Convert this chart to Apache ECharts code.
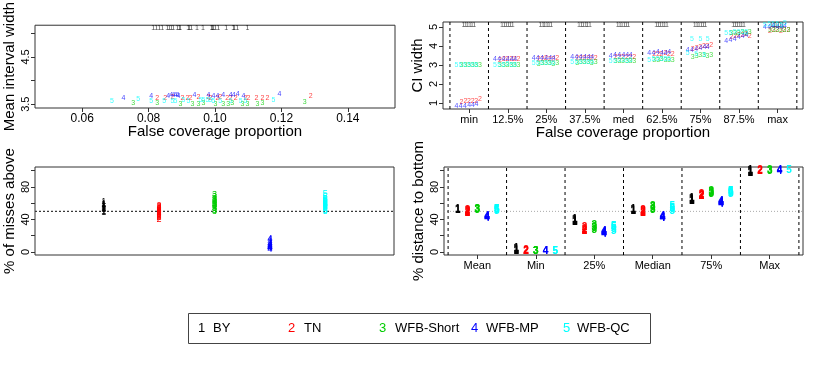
<!DOCTYPE html>
<html><head><meta charset="utf-8">
<script src="https://cdn.jsdelivr.net/npm/echarts@6/dist/echarts.min.js"></script>
<style>html,body{margin:0;padding:0;background:#fff}#c{width:817px;height:382px}</style>
</head><body><div id="c"></div>
<script>
// ---------- data ----------
const METHODS = ['BY', 'TN', 'WFB-Short', 'WFB-MP', 'WFB-QC'];
const COLORS = ['#000000', '#FF0000', '#00CD00', '#0000FF', '#00FFFF'];

// Panel 1: false coverage proportion vs mean interval width
const fcpBY = [0.0814,0.0823,0.0832,0.0841,0.0856,0.0862,0.0868,0.0874,0.0886,0.0892,0.0895,0.0919,0.0922,0.0928,0.0946,0.0964,0.0989,0.0992,0.0995,0.1001,0.1010,0.1034,0.1055,0.1058,0.1067,0.1098];
const widthBY = [5.12,5.12,5.12,5.12,5.12,5.12,5.12,5.12,5.12,5.12,5.12,5.12,5.12,5.12,5.12,5.12,5.12,5.12,5.12,5.12,5.12,5.12,5.12,5.12,5.12,5.12];
const fcpTN = [0.0826,0.0850,0.0872,0.0902,0.0917,0.0926,0.0950,0.0980,0.0986,0.1007,0.1016,0.1037,0.1047,0.1062,0.1092,0.1101,0.1125,0.1143,0.1158,0.1288];
const widthTN = [3.62,3.64,3.66,3.63,3.62,3.63,3.65,3.66,3.64,3.63,3.66,3.64,3.62,3.63,3.62,3.63,3.64,3.64,3.64,3.68];
const fcpShort = [0.0754,0.0826,0.0896,0.0932,0.0950,0.0965,0.1001,0.1025,0.1040,0.1052,0.1083,0.1098,0.1128,0.1143,0.1270];
const widthShort = [3.52,3.52,3.50,3.51,3.50,3.52,3.50,3.51,3.50,3.52,3.51,3.51,3.51,3.52,3.54];
const fcpMP = [0.0724,0.0808,0.0859,0.0868,0.0875,0.0881,0.0887,0.0890,0.0938,0.0980,0.0995,0.1007,0.1025,0.1047,0.1056,0.1068,0.1086,0.1194];
const widthMP = [3.64,3.68,3.68,3.70,3.70,3.69,3.70,3.68,3.69,3.69,3.68,3.68,3.69,3.70,3.69,3.71,3.68,3.72];
const fcpQC = [0.0690,0.0769,0.0808,0.0847,0.0872,0.0881,0.0905,0.0920,0.0956,0.0965,0.0977,0.0986,0.0995,0.1016,0.1047,0.1077,0.1092,0.1176];
const widthQC = [3.56,3.60,3.57,3.56,3.57,3.57,3.58,3.57,3.58,3.59,3.58,3.58,3.57,3.56,3.57,3.56,3.57,3.59];

// Panel 2: CI width quantiles
const QUANTS = ['min','12.5%','25%','37.5%','med','62.5%','75%','87.5%','max'];
const OFF_BY = [-0.15,-0.09,-0.04,0.02,0.07,0.13];
const OFF_23 = [-0.2,-0.1,-0.01,0.09,0.18,0.28];
const OFF_45 = [-0.33,-0.22,-0.11,0.0,0.1,0.19];
const ciBY = [
 [5.10,5.11,5.10,5.12,5.11,5.10],[5.10,5.11,5.10,5.12,5.11,5.10],[5.10,5.11,5.10,5.12,5.11,5.10],
 [5.10,5.11,5.10,5.12,5.11,5.10],[5.10,5.11,5.10,5.12,5.11,5.10],[5.10,5.11,5.10,5.12,5.11,5.10],
 [5.10,5.11,5.10,5.12,5.11,5.10],[5.10,5.11,5.10,5.12,5.11,5.10],[5.10,5.11,5.10,5.12,5.11,5.10]];
const ciTN = [
 [1.05,1.08,1.10,1.09,1.12,1.22],[3.28,3.30,3.31,3.29,3.30,3.30],[3.31,3.33,3.34,3.33,3.32,3.34],
 [3.34,3.36,3.38,3.37,3.36,3.37],[3.40,3.42,3.44,3.43,3.42,3.44],[3.55,3.57,3.58,3.60,3.58,3.58],
 [3.86,3.90,3.95,3.98,4.00,4.02],[4.48,4.52,4.55,4.58,4.60,4.53],[4.80,4.81,4.82,4.80,4.81,4.82]];
const ciShort = [
 [2.99,3.00,3.01,3.00,2.99,3.00],[2.99,3.00,3.01,3.00,3.01,3.00],[3.06,3.08,3.09,3.08,3.07,3.08],
 [3.11,3.13,3.14,3.13,3.12,3.13],[3.18,3.20,3.22,3.21,3.20,3.22],[3.26,3.28,3.29,3.28,3.27,3.28],
 [3.42,3.46,3.50,3.52,3.48,3.52],[4.66,4.68,4.70,4.72,4.70,4.72],[4.84,4.86,4.85,4.86,4.84,4.86]];
const ciMP = [
 [0.84,0.86,0.85,0.88,0.87,0.95],[3.31,3.33,3.32,3.33,3.31,3.32],[3.34,3.36,3.35,3.36,3.34,3.35],
 [3.40,3.42,3.41,3.43,3.42,3.41],[3.48,3.50,3.52,3.51,3.50,3.52],[3.62,3.64,3.66,3.65,3.63,3.66],
 [3.80,3.76,3.84,3.88,3.92,3.94],[4.24,4.30,4.38,4.45,4.50,4.55],[5.00,5.01,5.02,5.01,5.00,5.02]];
const ciQC = [
 [3.00,3.01,3.00,2.99,3.00,3.01],[3.00,3.01,3.00,3.02,3.01,3.00],[3.08,3.10,3.09,3.10,3.08,3.09],
 [3.13,3.15,3.16,3.15,3.14,3.15],[3.20,3.22,3.24,3.23,3.22,3.23],[3.28,3.30,3.31,3.30,3.29,3.30],
 [3.62,4.35,3.55,4.35,3.50,4.35],[4.66,4.70,4.72,4.74,4.73,4.72],[5.10,5.14,5.16,5.15,5.12,5.18]];

// Panel 3: % of misses above
const aboveBY = [48,50,52,53,54,55,56,57,58,59,60,62];
const aboveTN = [40,42,44,45,46,47,48,49,50,51,52,53,54,55,56,57];
const aboveShort = [50,51,53,54,56,57,58,59,60,61,62,63,64,66,68,71];
const aboveMP = [3,4,5,5,6,6,7,7,8,8,9,10,11,13,15,17];
const aboveQC = [50,51,53,55,56,57,58,59,60,61,62,63,64,66,68,72];

// Panel 4: % distance to bottom
const STATS = ['Mean','Min','25%','Median','75%','Max'];
const distBY = [[51,52],[1,2,3,4],[37,38,39,40],[50,51,52],[63,64,65,66],[97,98,99,100]];
const distTN = [[48,49,50,51],[1,1.5,2],[25,27,28,30],[48,49,50,51],[68,69,70,71],[99,100]];
const distShort = [[51,52,53],[0.5,1,1.5],[27,29,31,33],[51,53,55,56],[71,72,74,75],[99,100]];
const distMP = [[42,43,44],[1,1.5],[22,23,24,25],[41,42,43,44],[59,60,61,62],[99,100]];
const distQC = [[50,51,52,53],[1,1.5],[26,28,30,32],[50,52,54,56],[71,72,74,75],[100]];

// ---------- styles ----------
const FONT = '"Liberation Sans", Arial, Helvetica, sans-serif';
const TICK = {show:true, length:4, lineStyle:{color:'#333', width:1}};

function digitSeries(name, data, digit, color, fontSize, opacity, xi, yi, weight) {
  return {
    type:'custom', name, coordinateSystem:'cartesian2d', xAxisIndex:xi, yAxisIndex:yi,
    data, silent:true,
    renderItem:(params, api) => {
      const p = api.coord([api.value(0), api.value(1)]);
      return {type:'text', x:p[0], y:p[1], style:{text:digit, fill:color, fontSize, fontFamily:FONT,
        fontWeight: weight || 'normal', align:'center', verticalAlign:'middle', opacity}};
    }
  };
}
function lineSeries(data, xi, yi, vertical, lo, hi, stroke, dash, width) {
  return {
    type:'custom', coordinateSystem:'cartesian2d', xAxisIndex:xi, yAxisIndex:yi, silent:true, z:1,
    data: data.map(v => [v, v]),
    renderItem:(params, api) => {
      const v = api.value(0);
      const p1 = vertical ? api.coord([v, lo]) : api.coord([lo, v]);
      const p2 = vertical ? api.coord([v, hi]) : api.coord([hi, v]);
      return {type:'line', shape:{x1:p1[0], y1:p1[1], x2:p2[0], y2:p2[1]},
        style:{stroke, lineWidth:width, lineDash:dash}};
    }
  };
}
const zip = (xs, ys) => xs.map((x, i) => [x, ys[i]]);
const spread = (rows, off) => rows.flatMap((r, c) => r.map((v, k) => [c + 1 + off[k], v]));
const MOFF = [-0.333, -0.167, 0, 0.167, 0.333];
const spread5 = (rows, m) => rows.flatMap((r, c) => r.map(v => [c + 1 + MOFF[m], v]));

function xAx(gi, min, max, ticks, fmt, name, fs) {
  return {type:'value', gridIndex:gi, min, max, splitLine:{show:false}, axisLine:{show:false, onZero:false},
    axisTick:Object.assign({customValues:ticks}, TICK),
    axisLabel:{customValues:ticks, formatter:fmt, fontSize:fs, color:'#000', fontFamily:FONT, margin:5, hideOverlap:false},
    name, nameLocation:'middle', nameGap:16, nameMoveOverlap:false, nameTextStyle:{fontSize:15, color:'#000', fontFamily:FONT}};
}
function yAx(gi, min, max, ticks, labels, name) {
  return {type:'value', gridIndex:gi, min, max, splitLine:{show:false}, axisLine:{show:false, onZero:false},
    axisTick:Object.assign({customValues:ticks}, TICK),
    axisLabel:{customValues:labels, rotate:90, fontSize:11, color:'#000', fontFamily:FONT, margin:4,
      hideOverlap:false, showMinLabel:true, showMaxLabel:true},
    name, nameLocation:'middle', nameGap:18, nameMoveOverlap:false, nameTextStyle:{fontSize:15, color:'#000', fontFamily:FONT}};
}

const gridStyle = {show:true, borderColor:'#333', borderWidth:1, containLabel:false};
const series = [];
// panel 1
const p1 = [[fcpBY,widthBY],[fcpTN,widthTN],[fcpShort,widthShort],[fcpMP,widthMP],[fcpQC,widthQC]];
p1.forEach(([xs, ys], m) => series.push(digitSeries(METHODS[m], zip(xs, ys), String(m+1), COLORS[m], 7, 0.75, 0, 0)));
// panel 2
series.push(lineSeries([0.5,1.5,2.5,3.5,4.5,5.5,6.5,7.5,8.5,9.5], 1, 1, true, 0.68, 5.26, '#000', [3,3], 1));
const p2 = [[ciBY, OFF_BY],[ciTN, OFF_23],[ciShort, OFF_23],[ciMP, OFF_45],[ciQC, OFF_45]];
p2.forEach(([rows, off], m) => series.push(digitSeries(METHODS[m], spread(rows, off), String(m+1), COLORS[m], 7, 0.7, 1, 1)));
// panel 3 (methods at positions 1..5 within an x range of 0..6, shifted by +1 on the axis)
series.push(lineSeries([50], 2, 2, false, 0.76, 7.24, '#333', [2,2], 1.2));
[aboveBY, aboveTN, aboveShort, aboveMP, aboveQC].forEach((vals, m) =>
  series.push(digitSeries(METHODS[m], vals.map(v => [m+2, v]), String(m+1), COLORS[m], 9, 1, 2, 2)));
// panel 4
series.push(lineSeries([50], 3, 3, false, 0.43, 6.57, '#aaa', [1,2], 1));
series.push(lineSeries([0.5,1.5,2.5,3.5,4.5,5.5,6.5], 3, 3, true, -3.7, 104.6, '#000', [3,3], 1));
[distBY, distTN, distShort, distMP, distQC].forEach((rows, m) =>
  series.push(digitSeries(METHODS[m], spread5(rows, m), String(m+1), COLORS[m], 10, 1, 3, 3, 'bold')));

// legend (graphic) + panel-3 y title
const legendItems = [[198, 213], [288, 304], [379, 395], [471, 486], [563, 577]];
const graphic = [{type:'rect', shape:{x:188.5, y:313.5, width:462, height:30}, style:{fill:'none', stroke:'#444', lineWidth:1}}];
legendItems.forEach(([dx, tx], m) => {
  graphic.push({type:'text', x:dx, y:328, style:{text:String(m+1), fill:COLORS[m], fontSize:13, fontFamily:FONT, verticalAlign:'middle'}});
  graphic.push({type:'text', x:tx, y:328, style:{text:METHODS[m], fill:'#000', fontSize:13, fontFamily:FONT, verticalAlign:'middle'}});
});
graphic.push({type:'text', x:10, y:211, rotation:Math.PI/2,
  style:{text:'% of misses above', fill:'#000', fontSize:15, fontFamily:FONT, align:'center', verticalAlign:'middle'}});

const option = {
  animation:false,
  backgroundColor:'#fff',
  grid:[
    Object.assign({left:35, top:22, width:360, height:86}, gridStyle),
    Object.assign({left:443, top:22, width:360, height:87}, gridStyle),
    Object.assign({left:35, top:167, width:359, height:88}, gridStyle),
    Object.assign({left:444, top:167, width:359, height:88}, gridStyle)
  ],
  xAxis:[
    xAx(0, 0.0458, 0.1542, [0.06,0.08,0.10,0.12,0.14], v => v.toFixed(2), 'False coverage proportion', 12),
    xAx(1, 0.32, 9.66, [1,2,3,4,5,6,7,8,9], v => QUANTS[Math.round(v)-1], 'False coverage proportion', 11),
    {type:'value', gridIndex:2, min:0.76, max:7.24, show:false},
    xAx(3, 0.43, 6.57, [1,2,3,4,5,6], v => STATS[Math.round(v)-1], '', 11)
  ],
  yAxis:[
    yAx(0, 3.42, 5.17, [3.5,4,4.5,5], [3.5,4.5], 'Mean interval width'),
    yAx(1, 0.68, 5.26, [1,2,3,4,5], [1,2,3,4,5], 'CI width'),
    yAx(2, -3.7, 104.6, [0,20,40,60,80,100], [0,40,80], ''),
    yAx(3, -3.7, 104.6, [0,20,40,60,80,100], [0,40,80], '% distance to bottom')
  ],
  series,
  graphic
};
const chart = echarts.init(document.getElementById('c'), null, {renderer:'canvas'});
chart.setOption(option);
</script></body></html>
